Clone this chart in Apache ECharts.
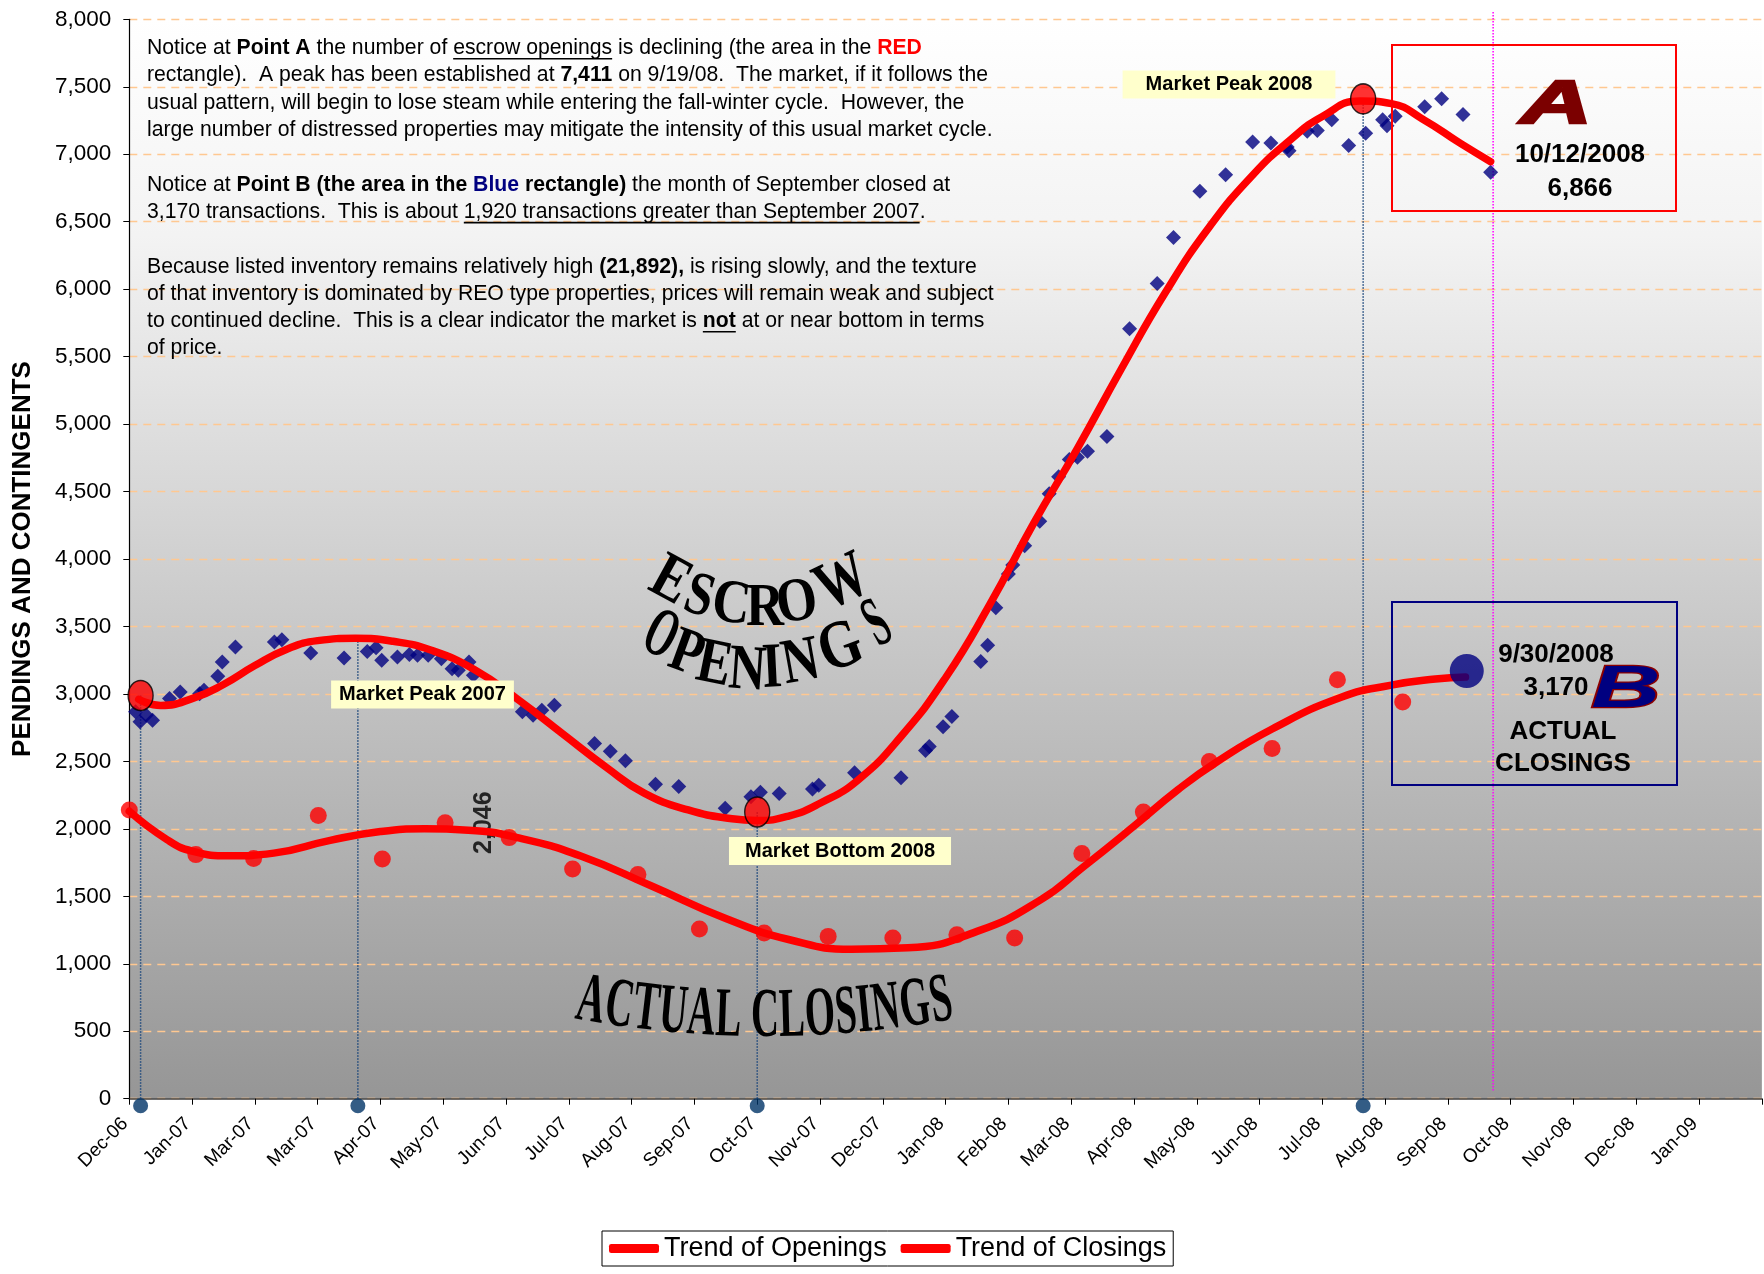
<!DOCTYPE html>
<html>
<head>
<meta charset="utf-8">
<title>Escrow openings and actual closings</title>
<script src="https://cdn.jsdelivr.net/npm/echarts@6/dist/echarts.min.js"></script>
<style>
html, body { margin: 0; padding: 0; background: #fff; }
#chart { width: 1764px; height: 1274px; }
</style>
</head>
<body>
<div id="chart"></div>
<script>
// x values are counted in axis ticks (0 = Dec-06 tick, one tick is about 30 days)
var monthLabels = ['Dec-06', 'Jan-07', 'Mar-07', 'Mar-07', 'Apr-07', 'May-07', 'Jun-07', 'Jul-07', 'Aug-07',
	'Sep-07', 'Oct-07', 'Nov-07', 'Dec-07', 'Jan-08', 'Feb-08', 'Mar-08', 'Apr-08', 'May-08', 'Jun-08',
	'Jul-08', 'Aug-08', 'Sep-08', 'Oct-08', 'Nov-08', 'Dec-08', 'Jan-09']

// escrow openings (navy diamonds)
var openings = [[0.10, 2867], [0.17, 2793], [0.27, 2842], [0.37, 2805], [0.64, 2966], [0.81, 3015],
	[1.12, 3002], [1.19, 3027], [1.41, 3131], [1.48, 3236], [1.69, 3347], [2.31, 3384], [2.43, 3401],
	[2.89, 3303], [3.42, 3266], [3.79, 3315], [3.93, 3342], [4.02, 3249], [4.27, 3273], [4.46, 3293],
	[4.59, 3286], [4.76, 3286], [4.97, 3261], [5.14, 3187], [5.24, 3175], [5.41, 3236], [5.48, 3138],
	[6.26, 2867], [6.43, 2842], [6.57, 2879], [6.77, 2916], [7.41, 2633], [7.66, 2576], [7.90, 2505],
	[8.38, 2330], [8.75, 2313], [9.49, 2153], [9.90, 2238], [10.05, 2272], [10.35, 2262], [10.88, 2296],
	[10.98, 2323], [11.55, 2415], [12.29, 2378], [12.68, 2580], [12.74, 2610], [12.96, 2757], [13.10, 2833],
	[13.56, 3241], [13.67, 3361], [13.80, 3639], [14.00, 3888], [14.07, 3956], [14.26, 4099], [14.50, 4279],
	[14.65, 4483], [14.80, 4609], [14.97, 4738], [15.10, 4755], [15.26, 4799], [15.57, 4908], [15.93, 5707],
	[16.37, 6041], [16.63, 6383], [17.05, 6725], [17.46, 6847], [17.89, 7090], [18.18, 7084], [18.44, 7054],
	[18.47, 7025], [18.76, 7170], [18.92, 7175], [19.15, 7256], [19.42, 7065], [19.69, 7155], [19.96, 7256],
	[20.03, 7211], [20.16, 7281], [20.63, 7351], [20.90, 7411], [21.24, 7294], [21.68, 6866]]

// actual closings (red dots)
var closings = [[0.00, 2140], [1.06, 1809], [1.98, 1780], [3.01, 2099], [4.03, 1777], [5.03, 2046],
	[6.05, 1935], [7.06, 1703], [8.10, 1661], [9.08, 1257], [10.11, 1228], [11.13, 1203], [12.16, 1191],
	[13.18, 1215], [14.10, 1191], [15.17, 1817], [16.15, 2124], [17.20, 2500], [18.20, 2595], [19.24, 3105],
	[20.28, 2941]]
var labelledClosing = 5

// trend curves
var openingsTrend = [[0.15, 2960], [0.5, 2915], [1.0, 2965], [1.5, 3070], [2.0, 3210], [2.5, 3330],
	[3.0, 3395], [3.6, 3412], [4.2, 3390], [4.8, 3325], [5.5, 3180], [6.2, 2955], [6.9, 2705], [7.6, 2455],
	[8.2, 2265], [8.9, 2140], [9.6, 2075], [10.0, 2062], [10.5, 2095], [11.0, 2190], [11.6, 2360],
	[12.3, 2690], [13.0, 3120], [13.7, 3660], [14.4, 4262], [15.1, 4820], [15.8, 5410], [16.5, 5975],
	[17.2, 6460], [17.9, 6850], [18.5, 7110], [19.0, 7280], [19.6, 7395], [20.1, 7375], [20.6, 7260],
	[21.2, 7080], [21.68, 6945]]
var closingsTrend = [[0, 2130], [0.6, 1920], [1.0, 1835], [1.6, 1800], [2.3, 1820], [3.2, 1915],
	[4.0, 1980], [4.7, 2000], [5.4, 1990], [6.2, 1933], [7.2, 1797], [8.3, 1580], [9.5, 1335], [10.5, 1180],
	[11.5, 1108], [12.4, 1118], [13.5, 1240], [14.5, 1470], [15.2, 1720], [16.0, 2020], [16.7, 2290],
	[17.3, 2490], [18.2, 2740], [19.3, 2975], [20.1, 3065], [20.8, 3110], [21.28, 3125]]

// peaks / bottom highlighted with ellipses and dotted drop lines
var peakMarkers = [[0.18, 2988], [10.0, 2125], [19.65, 7410]]
var guideX = [0.18, 3.64, 10.0, 19.65]
var guideTop = [2988, 3412, 2125, 7410]
var lastClosing = [21.3, 3170]
var cutoffX = 21.72

var yTicks = { min: 0, max: 8000, step: 500 }

var navy = '#000080'
var red = '#FF0000'

function fmt(v) {
	return Number(v).toLocaleString('en-US')
}

// ---------- annotations ----------
var graphics = []
var ctx = document.createElement('canvas').getContext('2d')

// paragraph block at the top left
var noteFont = 21.2
var noteRows = [0, 1, 2, 3, 5, 6, 8, 9, 10, 11]
var noteLines = [
	[['Notice at ', 'n'], ['Point A', 'b'], [' the number of ', 'n'], ['escrow openings', 'u'], [' is declining (the area in the ', 'n'], ['RED', 'red']],
	[['rectangle).  A peak has been established at ', 'n'], ['7,411', 'b'], [' on 9/19/08.  The market, if it follows the', 'n']],
	[['usual pattern, will begin to lose steam while entering the fall-winter cycle.  However, the', 'n']],
	[['large number of distressed properties may mitigate the intensity of this usual market cycle.', 'n']],
	[['Notice at ', 'n'], ['Point B (the area in the ', 'b'], ['Blue', 'blue'], [' rectangle)', 'b'], [' the month of September closed at', 'n']],
	[['3,170 transactions.  This is about ', 'n'], ['1,920 transactions greater than September 2007', 'u'], ['.', 'n']],
	[['Because listed inventory remains relatively high ', 'n'], ['(21,892),', 'b'], [' is rising slowly, and the texture', 'n']],
	[['of that inventory is dominated by REO type properties, prices will remain weak and subject', 'n']],
	[['to continued decline.  This is a clear indicator the market is ', 'n'], ['not', 'bu'], [' at or near bottom in terms', 'n']],
	[['of price.', 'n']]
]
noteLines.forEach(function(line, i) {
	var y = 48.3 + 27.3 * noteRows[i]
	var x = 147
	line.forEach(function(seg) {
		var kind = seg[1]
		var bold = kind !== 'n' && kind !== 'u'
		var color = kind === 'red' ? red : (kind === 'blue' ? navy : '#000')
		ctx.font = (bold ? 'bold ' : '') + noteFont + 'px "Liberation Sans"'
		var w = ctx.measureText(seg[0]).width
		graphics.push({
			type: 'text', x: x, y: y, z: 100,
			style: { text: seg[0], fill: color, fontSize: noteFont, fontWeight: bold ? 'bold' : 'normal', fontFamily: 'Liberation Sans', verticalAlign: 'middle' }
		})
		if (kind === 'u' || kind === 'bu') {
			graphics.push({
				type: 'line', z: 100,
				shape: { x1: x, y1: y + 10.5, x2: x + w, y2: y + 10.5 },
				style: { stroke: '#000', lineWidth: 1.6 }
			})
		}
		x += w
	})
})

// yellow call-out boxes
function callout(text, x, y, padX) {
	graphics.push({
		type: 'text', x: x, y: y, z: 100,
		style: {
			text: text, fill: '#000', fontSize: 20, fontWeight: 'bold', fontFamily: 'Liberation Sans',
			align: 'center', verticalAlign: 'middle', backgroundColor: '#FFFFCC', padding: [4, padX]
		}
	})
}
callout('Market Peak 2008', 1229, 84.5, 23)
callout('Market Peak 2007', 422.5, 694.5, 8)
callout('Market Bottom 2008', 840, 851, 16)

// point A / point B rectangles
graphics.push({ type: 'rect', z: 90, shape: { x: 1392, y: 45, width: 284, height: 166 }, style: { fill: null, stroke: red, lineWidth: 2 } })
graphics.push({ type: 'rect', z: 90, shape: { x: 1392, y: 602, width: 285, height: 183 }, style: { fill: null, stroke: navy, lineWidth: 2 } })

function boldText(text, x, y) {
	graphics.push({
		type: 'text', x: x, y: y, z: 100,
		style: { text: text, fill: '#000', fontSize: 26, fontWeight: 'bold', fontFamily: 'Liberation Sans', align: 'center', verticalAlign: 'middle' }
	})
}
boldText('10/12/2008', 1580, 155)
boldText('6,866', 1580, 189)
boldText('9/30/2008', 1556, 655)
boldText('3,170', 1556, 688)
boldText('ACTUAL', 1563, 732)
boldText('CLOSINGS', 1563, 764)

function logo(letter, x, y, size, fill, stroke) {
	graphics.push({
		type: 'text', x: x, y: y, z: 100, scaleX: 1.6,
		style: {
			text: letter, fill: fill, stroke: stroke, lineWidth: 2.5,
			fontSize: size, fontWeight: 'bold', fontStyle: 'italic', fontFamily: 'Liberation Sans',
			align: 'center', verticalAlign: 'middle',
			textShadowColor: '#A8A8A8', textShadowOffsetX: 5, textShadowOffsetY: 4, textShadowBlur: 0
		}
	})
}
logo('A', 1556, 106, 62, '#7B0000', '#7B0000')
logo('B', 1626, 690, 60, navy, '#8B0000')

// word-art titles, one glyph each: [letter, x, y, rotation, size, scaleX]
var wordArt = [
	['E', 670, 582, -0.5, 66, 0.8], ['S', 699, 598, -0.3, 62, 0.8], ['C', 731, 606, -0.12, 62, 0.85],
	['R', 765, 609, 0, 62, 0.85], ['O', 797, 604, 0.15, 62, 0.85], ['W', 843, 584, 0.45, 68, 0.75],
	['O', 660, 637, -0.45, 70, 0.55], ['P', 686, 655, -0.35, 64, 0.8], ['E', 714, 666, -0.2, 64, 0.8],
	['N', 747, 672, -0.07, 64, 0.8], ['I', 772, 670, 0.05, 64, 0.8], ['N', 801, 664, 0.18, 64, 0.8],
	['G', 841, 649, 0.35, 68, 0.8], ['S', 878, 626, 0.5, 72, 0.5]
]
wordArt.forEach(function(g) {
	graphics.push({
		type: 'text', x: g[1], y: g[2], rotation: g[3], scaleX: g[5], z: 100,
		style: { text: g[0], fill: '#000', fontSize: g[4], fontWeight: 'bold', fontFamily: 'Liberation Serif', align: 'center', verticalAlign: 'middle' }
	})
})

// "ACTUAL CLOSINGS" laid along a shallow curve between x0 and x1
function curvedWord(text, x0, x1, xMid, yMid, k, size) {
	ctx.font = 'bold ' + size + 'px "Liberation Serif"'
	var total = ctx.measureText(text).width
	var sx = (x1 - x0) / total
	var run = 0
	text.split('').forEach(function(ch) {
		var w = ctx.measureText(ch).width
		var cx = x0 + (run + w / 2) * sx
		run += w
		if (ch === ' ') return
		var dx = cx - xMid
		graphics.push({
			type: 'text', x: cx, y: yMid - k * dx * dx, rotation: Math.atan(2 * k * dx), scaleX: sx, z: 100,
			style: { text: ch, fill: '#000', fontSize: size, fontWeight: 'bold', fontFamily: 'Liberation Serif', align: 'center', verticalAlign: 'middle' }
		})
	})
}
curvedWord('ACTUAL CLOSINGS', 577, 952, 765, 1018, 0.0005, 70)

// ---------- series ----------
var closingsData = closings.map(function(p, i) {
	if (i !== labelledClosing) return p
	return {
		value: p,
		label: {
			show: true, position: 'right', distance: 30, rotate: 90, align: 'center', verticalAlign: 'middle',
			fontSize: 25, fontWeight: 'bold', color: '#000',
			formatter: function(params) { return fmt(params.value[1]) }
		}
	}
})

var guideSeries = guideX.map(function(x, i) {
	return {
		type: 'line', silent: true, symbol: 'none', z: 1,
		data: [[x, 0], [x, guideTop[i]]],
		lineStyle: { color: '#1F497D', width: 1.5, type: 'dotted' }
	}
})

var trendLine = { color: red, width: 7.5, cap: 'round' }

var series = guideSeries.concat([{
	type: 'line', silent: true, symbol: 'none', z: 1, clip: false,
	data: [[cutoffX, 60], [cutoffX, 8060]],
	lineStyle: { color: '#FF00FF', width: 1.5, type: 'dotted' }
}, {
	name: 'Openings', type: 'scatter', symbol: 'diamond', symbolSize: 15, z: 3,
	itemStyle: { color: navy }, data: openings
}, {
	name: 'Closings', type: 'scatter', symbol: 'circle', symbolSize: 17, z: 3,
	itemStyle: { color: red }, data: closingsData
}, {
	name: 'Trend of Openings', type: 'line', smooth: true, symbol: 'none', z: 4,
	lineStyle: trendLine, itemStyle: { color: red }, data: openingsTrend
}, {
	name: 'Trend of Closings', type: 'line', smooth: true, symbol: 'none', z: 4,
	lineStyle: trendLine, itemStyle: { color: red }, data: closingsTrend
}, {
	type: 'scatter', z: 5, silent: true,
	symbol: 'path://M0,50 A50,50 0 1,1 100,50 A50,50 0 1,1 0,50 Z', symbolSize: [25, 30],
	itemStyle: { color: red, borderColor: '#000', borderWidth: 1.5 }, data: peakMarkers
}, {
	type: 'scatter', z: 5, silent: true, clip: false, symbolSize: 15,
	itemStyle: { color: '#003366' },
	data: guideX.map(function(x) { return [x, -52] })
}, {
	type: 'scatter', z: 5, silent: true, symbolSize: 34,
	itemStyle: { color: navy }, data: [lastClosing]
}])

var myChart = echarts.init(document.getElementById('chart'))
myChart.setOption({
	animation: false,
	textStyle: { fontFamily: 'Liberation Sans' },
	grid: {
		left: 129.3, top: 19.3, width: 1638, height: 1079.4, show: true, borderWidth: 0,
		backgroundColor: new echarts.graphic.LinearGradient(0, 0, 0, 1, [
			{ offset: 0, color: '#ffffff' },
			{ offset: 0.2, color: '#f3f3f3' },
			{ offset: 1, color: '#969696' }
		])
	},
	legend: {
		data: ['Trend of Openings', 'Trend of Closings'],
		left: 602, top: 1231, icon: 'roundRect', itemWidth: 50, itemHeight: 9, itemGap: 14,
		padding: [4, 7], borderColor: '#000', borderWidth: 1,
		textStyle: { fontSize: 27, color: '#000' }
	},
	xAxis: {
		type: 'value', min: 0, max: 26, interval: 1,
		axisLine: { show: true, onZero: false, lineStyle: { color: '#404040', width: 1.5 } },
		axisTick: { show: true, length: 6, lineStyle: { color: '#000' } },
		axisLabel: {
			rotate: 45, fontSize: 19, color: '#000', margin: 18, padding: [0, 6, 0, 0],
			formatter: function(v) { return monthLabels[Math.round(v)] || '' }
		},
		splitLine: { show: false }
	},
	yAxis: {
		type: 'value', min: yTicks.min, max: yTicks.max, interval: yTicks.step,
		name: 'PENDINGS AND CONTINGENTS', nameLocation: 'middle', nameGap: 93,
		nameTextStyle: { fontSize: 26, fontWeight: 'bold', color: '#000' },
		axisLine: { show: true, lineStyle: { color: '#000', width: 1.2 } },
		axisTick: { show: true, length: 6, lineStyle: { color: '#000' } },
		axisLabel: { fontSize: 22.5, color: '#000', margin: 18, formatter: fmt },
		splitLine: { lineStyle: { color: '#FFC891', type: [8, 6], width: 1.4 } }
	},
	graphic: graphics,
	series: series
})
</script>
</body>
</html>
